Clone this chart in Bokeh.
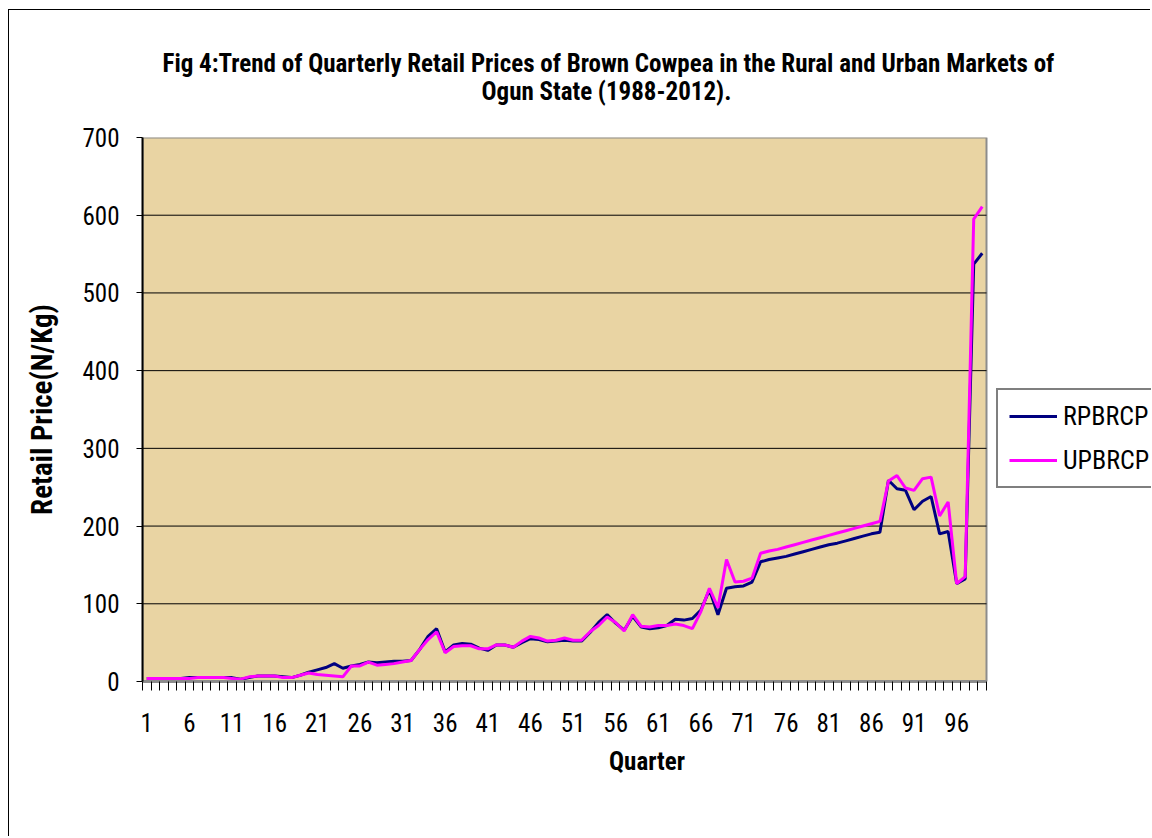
from bokeh.plotting import figure
from bokeh.models import Range1d, FixedTicker, Legend, LegendItem, Title
from bokeh.embed import file_html
from bokeh.resources import INLINE

# ---- data ----
quarters = list(range(1, 100))

rpbrcp = [4, 4, 4, 4, 4, 5, 5, 5, 5, 5,
          5, 3, 5, 7, 7, 7, 6, 5, 8, 12,
          15, 18, 23, 17, 20, 22, 25, 24, 25, 26,
          26, 27, 41, 58, 68, 38, 47, 49, 48, 43,
          40, 47, 47, 44, 50, 55, 54, 51, 52, 53,
          52, 52, 63, 76, 86, 75, 66, 84, 70, 68,
          69, 72, 80, 79, 81, 92, 118, 86, 120, 122,
          123, 128, 154, 157, 159, 161, 164, 167, 170, 173,
          176, 178, 181, 184, 187, 190, 192, 259, 248, 246,
          221, 232, 238, 190, 193, 126, 132, 537, 551]

upbrcp = [4, 4, 4, 4, 4, 4, 5, 5, 5, 5,
          4, 3, 6, 7, 7, 7, 5, 5, 8, 11,
          9, 8, 7, 6, 20, 20, 25, 21, 22, 23,
          25, 27, 41, 54, 64, 37, 45, 46, 46, 42,
          42, 47, 47, 44, 52, 58, 56, 52, 53, 56,
          53, 53, 64, 72, 83, 76, 65, 86, 71, 70,
          72, 72, 74, 72, 68, 90, 120, 95, 157, 128,
          129, 133, 165, 168, 170, 173, 176, 179, 182, 185,
          188, 191, 194, 197, 200, 203, 206, 258, 265, 249,
          246, 261, 263, 213, 231, 126, 135, 595, 611]

x_label_ticks = [1, 6, 11, 16, 21, 26, 31, 36, 41, 46, 51, 56, 61, 66, 71, 76, 81, 86, 91, 96]
y_ticks = [0, 100, 200, 300, 400, 500, 600, 700]

series_names = ["RPBRCP", "UPBRCP"]
series_colors = ["#000080", "#FF00FF"]

title_line1 = "Fig 4:Trend of Quarterly Retail Prices of Brown Cowpea in the Rural and Urban Markets of"
title_line2 = "Ogun State (1988-2012)."

FONT = "'Roboto Condensed', 'DejaVu Sans Condensed', 'Liberation Sans', sans-serif"

# category axis: categories sit between tick marks
cat_lo = quarters[0] - 0.5
cat_hi = quarters[-1] + 0.5
category_edges = [q - 0.5 for q in quarters] + [cat_hi]
grid_levels = y_ticks[1:-1]

# frame spans to the right edge so that the legend (inside the frame) can sit there
FRAME_W = 1009          # pixels of the frame
AREA_W = 844            # pixels of the plot area (99 categories)
x_end = cat_lo + (cat_hi - cat_lo) * FRAME_W / AREA_W

p = figure(width=1142, height=827,
           x_range=Range1d(cat_lo, x_end), y_range=Range1d(0, 700),
           output_backend="svg", toolbar_location=None,
           min_border_left=133, min_border_right=0,
           min_border_top=127, min_border_bottom=156)

p.background_fill_color = "white"
p.border_fill_color = "white"
p.outline_line_color = None
p.styles = {"border-left": "1px solid black", "border-top": "1px solid black",
            "margin-left": "8px", "margin-top": "9px"}

p.xgrid.visible = False
p.ygrid.visible = False

# plot area (papyrus-coloured) with grey border, and black grid lines
p.quad(left=cat_lo, right=cat_hi, bottom=0, top=700,
       fill_color="#E9D4A3", line_color="#8c8c8c", line_width=2)
p.segment(x0=cat_lo, x1=cat_hi, y0=grid_levels, y1=grid_levels,
          line_color="black", line_width=1)

# y axis
p.yaxis.ticker = FixedTicker(ticks=y_ticks)
p.yaxis.axis_line_color = "black"
p.yaxis.axis_line_width = 2
p.yaxis.major_tick_line_color = "black"
p.yaxis.major_tick_out = 6
p.yaxis.major_tick_in = 0
p.yaxis.minor_tick_line_color = None
p.yaxis.major_label_text_font = FONT
p.yaxis.major_label_text_font_size = "25px"
p.yaxis.major_label_text_color = "black"
p.yaxis.major_label_standoff = 17
p.yaxis.axis_label = "Retail Price(N/Kg)"
p.yaxis.axis_label_text_font = FONT
p.yaxis.axis_label_text_font_style = "bold"
p.yaxis.axis_label_text_font_size = "29px"
p.yaxis.axis_label_text_color = "black"
p.yaxis.axis_label_standoff = 20

# x axis
p.xaxis.ticker = FixedTicker(ticks=x_label_ticks, minor_ticks=category_edges)
p.xaxis.bounds = (cat_lo, cat_hi)
p.xaxis.axis_line_color = "#8c8c8c"
p.xaxis.axis_line_width = 3
p.xaxis.major_tick_line_color = None
p.xaxis.major_tick_out = 9
p.xaxis.major_tick_in = 0
p.xaxis.minor_tick_line_color = "black"
p.xaxis.minor_tick_line_width = 1
p.xaxis.minor_tick_out = 9
p.xaxis.minor_tick_in = 0
p.xaxis.major_label_text_font = FONT
p.xaxis.major_label_text_font_size = "25px"
p.xaxis.major_label_text_color = "black"
p.xaxis.major_label_standoff = 22
p.xaxis.axis_label = "Quarter"
p.xaxis.axis_label_text_font = FONT
p.xaxis.axis_label_text_font_style = "bold"
p.xaxis.axis_label_text_font_size = "25px"
p.xaxis.axis_label_text_color = "black"
p.xaxis.axis_label_standoff = 12

# lines
r1 = p.line(quarters, rpbrcp, line_color=series_colors[0], line_width=3)
r2 = p.line(quarters, upbrcp, line_color=series_colors[1], line_width=3)

legend = Legend(items=[LegendItem(label=series_names[0], renderers=[r1]),
                       LegendItem(label=series_names[1], renderers=[r2])],
                location=(854, 193), margin=0, padding=11, spacing=14,
                glyph_width=48, glyph_height=26, label_height=26, label_standoff=6,
                label_text_font=FONT, label_text_font_size="26px",
                label_text_color="black",
                border_line_color="black", border_line_width=2,
                background_fill_color="white", background_fill_alpha=1.0)
p.add_layout(legend)

# title: spacer, then the two lines (added from the frame outwards)
p.add_layout(Title(text=" ", text_font=FONT, text_font_size="26px", standoff=0), "above")
p.add_layout(Title(text=title_line2, align="left", offset=339, standoff=0,
                   text_font=FONT, text_font_style="bold", text_font_size="25px",
                   text_color="black"), "above")
t1 = Title(text=title_line1, align="left", offset=20, standoff=0,
           text_font=FONT, text_font_style="bold", text_font_size="25px",
           text_color="black")
try:
    t1.standoff = -6
except Exception:
    pass
p.add_layout(t1, "above")

open("out.html", "w").write(file_html(p, INLINE))
